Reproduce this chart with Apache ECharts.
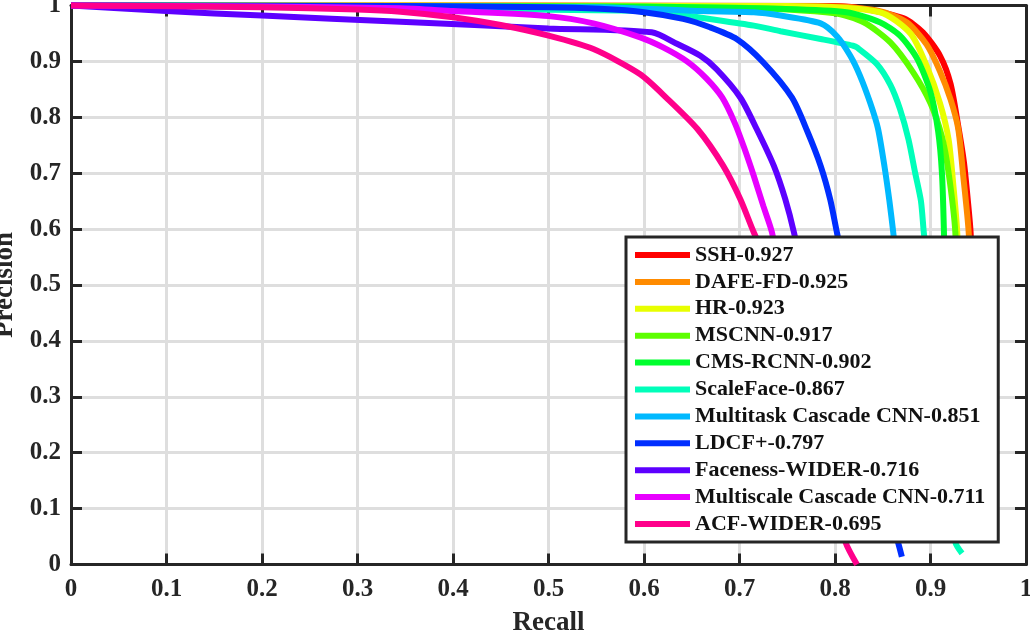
<!DOCTYPE html>
<html>
<head>
<meta charset="utf-8">
<script src="https://cdn.jsdelivr.net/npm/echarts@6/dist/echarts.min.js"></script>
<style>
  html, body { margin: 0; padding: 0; background: #fff; }
  #chart { width: 1030px; height: 633px; }
</style>
</head>
<body>
<div id="chart"></div>
<script>
// legend names, in plotting order (last one ends up on top)
const methodNames = [
  'SSH-0.927', 'DAFE-FD-0.925', 'HR-0.923', 'MSCNN-0.917', 'CMS-RCNN-0.902',
  'ScaleFace-0.867', 'Multitask Cascade CNN-0.851', 'LDCF+-0.797',
  'Faceness-WIDER-0.716', 'Multiscale Cascade CNN-0.711', 'ACF-WIDER-0.695'
];

// [recall, precision] points
const sshPts = [[0, 1], [0.8, 0.999], [0.83, 0.994], [0.872, 0.977], [0.892, 0.952], [0.91, 0.91],
  [0.921, 0.86], [0.929, 0.785], [0.935, 0.72], [0.939, 0.653], [0.942, 0.594], [0.95, 0.3]];
const dafePts = [[0, 1], [0.8, 0.998], [0.847, 0.99], [0.875, 0.97], [0.896, 0.93], [0.91, 0.882],
  [0.921, 0.832], [0.929, 0.78], [0.934, 0.7], [0.94, 0.594], [0.948, 0.3]];
const hrPts = [[0, 1], [0.75, 0.999], [0.847, 0.988], [0.879, 0.95], [0.896, 0.892], [0.91, 0.825],
  [0.919, 0.76], [0.924, 0.677], [0.928, 0.594], [0.935, 0.3]];
const mscnnPts = [[0, 1], [0.7, 0.996], [0.8, 0.986], [0.83, 0.97], [0.858, 0.934], [0.882, 0.88],
  [0.9, 0.825], [0.912, 0.765], [0.919, 0.7], [0.926, 0.594], [0.932, 0.3]];
const cmsPts = [[0, 1], [0.6, 0.998], [0.743, 0.994], [0.812, 0.988], [0.847, 0.97], [0.868, 0.946],
  [0.886, 0.905], [0.9, 0.845], [0.908, 0.775], [0.912, 0.7], [0.914, 0.6], [0.918, 0.3]];
const scaleFacePts = [[0, 1], [0.62, 0.99], [0.645, 0.982], [0.715, 0.964], [0.743, 0.954], [0.785, 0.94],
  [0.819, 0.928], [0.823, 0.925], [0.844, 0.895], [0.858, 0.858], [0.868, 0.815], [0.877, 0.76],
  [0.884, 0.7], [0.89, 0.65], [0.893, 0.594], [0.905, 0.4], [0.917, 0.2], [0.926, 0.04], [0.933, 0.02]];
const multitaskPts = [[0, 1], [0.554, 0.997], [0.659, 0.99], [0.715, 0.988], [0.743, 0.982], [0.785, 0.968],
  [0.802, 0.945], [0.816, 0.91], [0.826, 0.875], [0.837, 0.825], [0.845, 0.78], [0.852, 0.71],
  [0.857, 0.65], [0.861, 0.594], [0.87, 0.45], [0.878, 0.3]];
const ldcfPts = [[0, 1], [0.345, 0.999], [0.5, 0.997], [0.554, 0.994], [0.6, 0.988], [0.641, 0.976],
  [0.669, 0.961], [0.697, 0.94], [0.725, 0.898], [0.755, 0.835], [0.771, 0.775], [0.785, 0.713],
  [0.795, 0.653], [0.802, 0.594], [0.82, 0.45], [0.84, 0.25], [0.857, 0.1], [0.866, 0.04], [0.87, 0.014]];
const facenessPts = [[0, 1], [0.1, 0.99], [0.2, 0.982], [0.345, 0.971], [0.5, 0.959], [0.608, 0.952],
  [0.635, 0.931], [0.659, 0.91], [0.676, 0.886], [0.701, 0.835], [0.718, 0.779], [0.736, 0.713],
  [0.748, 0.653], [0.757, 0.594], [0.775, 0.45], [0.79, 0.3]];
const multiscalePts = [[0, 1], [0.2, 0.998], [0.345, 0.995], [0.4, 0.99], [0.5, 0.981], [0.547, 0.968],
  [0.596, 0.943], [0.62, 0.925], [0.645, 0.9], [0.665, 0.87], [0.682, 0.835], [0.695, 0.79],
  [0.705, 0.745], [0.715, 0.695], [0.725, 0.641], [0.734, 0.594], [0.75, 0.45], [0.765, 0.3]];
const acfPts = [[0, 1], [0.2, 0.997], [0.3, 0.993], [0.345, 0.989], [0.4, 0.979], [0.45, 0.965],
  [0.5, 0.946], [0.547, 0.922], [0.596, 0.877], [0.624, 0.834], [0.656, 0.779], [0.683, 0.713],
  [0.701, 0.653], [0.715, 0.594], [0.745, 0.48], [0.775, 0.3], [0.8, 0.12], [0.811, 0.04], [0.823, 0]];

const allPts = [sshPts, dafePts, hrPts, mscnnPts, cmsPts, scaleFacePts, multitaskPts,
  ldcfPts, facenessPts, multiscalePts, acfPts];

// hsv(11) style colours
const lineColors = ['#FF0000', '#FF8B00', '#E8FF00', '#5DFF00', '#00FF2E', '#00FFBA',
  '#00B9FF', '#002EFF', '#5D00FF', '#E800FF', '#FF008B'];

const axisDark = '#262626';
const fontFam = '"Liberation Serif", "Times New Roman", serif';

const chart = echarts.init(document.getElementById('chart'));

const frameAxis = (extra) => Object.assign({
  type: 'value', min: 0, max: 1, interval: 0.1,
  axisLine: { show: true, onZero: false, lineStyle: { color: axisDark, width: 3 } },
  axisTick: { show: true, inside: true, length: 11, lineStyle: { color: axisDark, width: 3 } },
  axisLabel: { show: false },
  splitLine: { show: false }
}, extra);

const labelStyle = { color: axisDark, fontFamily: fontFam, fontWeight: 'bold', fontSize: 25 };

chart.setOption({
  animation: false,
  backgroundColor: '#fff',
  grid: { left: 71, top: 5.5, width: 955, height: 559, containLabel: false, outerBoundsMode: 'none' },
  xAxis: [
    frameAxis({
      position: 'bottom',
      name: 'Recall', nameLocation: 'middle', nameGap: 45,
      nameTextStyle: { color: axisDark, fontFamily: fontFam, fontWeight: 'bold', fontSize: 27 },
      axisLabel: Object.assign({ show: true, margin: 13 }, labelStyle),
      splitLine: { show: true, lineStyle: { color: '#dedede', width: 3 } }
    }),
    frameAxis({ position: 'top' })
  ],
  yAxis: [
    frameAxis({
      position: 'left',
      name: 'Precision', nameLocation: 'middle', nameGap: 51,
      nameTextStyle: { color: axisDark, fontFamily: fontFam, fontWeight: 'bold', fontSize: 27 },
      axisLabel: Object.assign({ show: true, margin: 10 }, labelStyle),
      splitLine: { show: true, lineStyle: { color: '#dedede', width: 3 } }
    }),
    frameAxis({ position: 'right' })
  ],
  legend: {
    orient: 'vertical',
    left: 626, top: 237,
    padding: [7, 13, 7, 9],
    itemWidth: 55, itemHeight: 6, itemGap: 4.9,
    icon: 'rect',
    backgroundColor: '#fff',
    borderColor: axisDark, borderWidth: 3,
    textStyle: { color: '#111', fontFamily: fontFam, fontWeight: 'bold', fontSize: 22, lineHeight: 22 },
    data: methodNames
  },
  series: methodNames.map((name, i) => ({
    name: name,
    type: 'line',
    data: allPts[i],
    showSymbol: false,
    clip: false,
    smooth: 0.25,
    color: lineColors[i],
    lineStyle: { width: 6, color: lineColors[i] }
  }))
});
</script>
</body>
</html>
